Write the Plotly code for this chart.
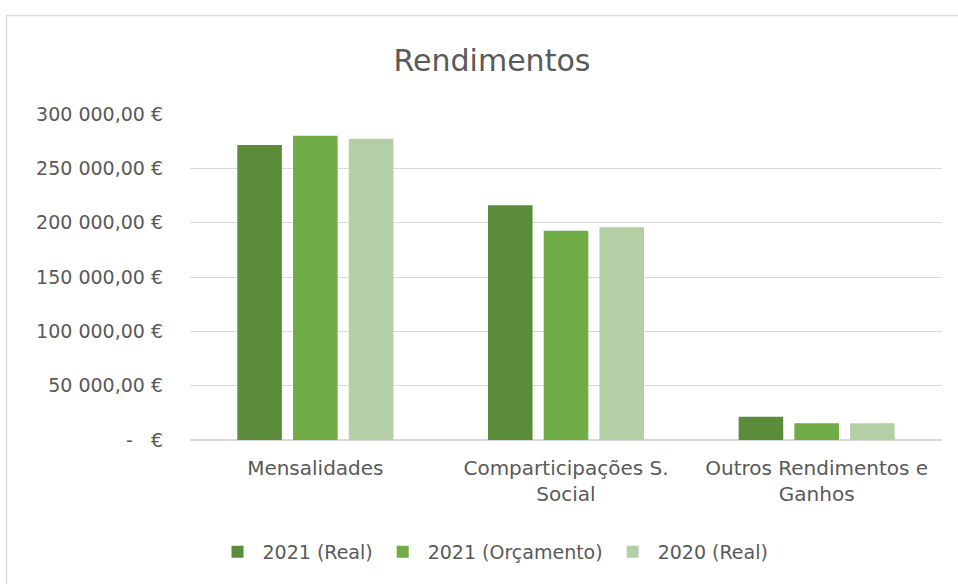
import plotly.graph_objects as go

categories = ["Mensalidades", "Comparticipações S.<br>Social", "Outros Rendimentos e<br>Ganhos"]
series_names = ["2021 (Real)", "2021 (Orçamento)", "2020 (Real)"]
real_2021 = [271500, 216000, 21400]
orcamento_2021 = [280000, 192500, 15300]
real_2020 = [277300, 195700, 15300]
tick_vals = [0, 50000, 100000, 150000, 200000, 250000, 300000]
tick_text = ["-   €", "50 000,00 €", "100 000,00 €", "150 000,00 €", "200 000,00 €", "250 000,00 €", "300 000,00 €"]
colors = ["#5B8C3A", "#70AD47", "#B4CEA5"]

W, H = 958, 584
L, R, T, B = 190, 16, 114, 144
pw, ph = W - L - R, H - T - B

fig = go.Figure()
for name, vals, c in zip(series_names, [real_2021, orcamento_2021, real_2020], colors):
    fig.add_trace(go.Bar(name=name, x=categories, y=vals, marker=dict(color=c, line=dict(width=0))))

def px_x(p):
    return (p - L) / pw

def px_y(p):
    return (H - B - p) / ph

fig.add_shape(type="rect", xref="paper", yref="paper",
              x0=px_x(6.5), x1=px_x(970), y0=px_y(600), y1=px_y(15.5),
              line=dict(color="#D9D9D9", width=1.5), fillcolor="rgba(0,0,0,0)", layer="below")

font_family = "DejaVu Sans, sans-serif"
fig.update_layout(
    width=W, height=H,
    margin=dict(l=L, r=R, t=T, b=B),
    paper_bgcolor="white", plot_bgcolor="white",
    barmode="group", bargap=0.333, bargroupgap=0.2,
    font=dict(family=font_family, color="#595959", size=19),
    title=dict(text="Rendimentos", x=492 / W, xref="container", xanchor="center",
               y=1 - 60 / H, yref="container", yanchor="middle",
               font=dict(size=30, color="#595959", family=font_family)),
    legend=dict(orientation="h", x=px_x(493), xanchor="center", y=px_y(552), yanchor="middle",
                font=dict(size=19, color="#595959"), itemwidth=40, traceorder="normal"),
    yaxis=dict(range=[0, 300000], tickvals=tick_vals, ticktext=tick_text,
               showgrid=True, gridcolor="#D9D9D9", gridwidth=1,
               zeroline=True, zerolinecolor="#D9D9D9", zerolinewidth=1.5,
               showline=False, ticks="", ticklabelstandoff=26,
               tickfont=dict(size=19, color="#595959")),
    xaxis=dict(showline=False, ticks="", ticklabelstandoff=14,
               tickfont=dict(size=20, color="#595959")),
)

fig.write_html("out.html", config={"displayModeBar": False},
               post_script="document.body.style.margin='0';document.body.style.overflow='hidden';")
